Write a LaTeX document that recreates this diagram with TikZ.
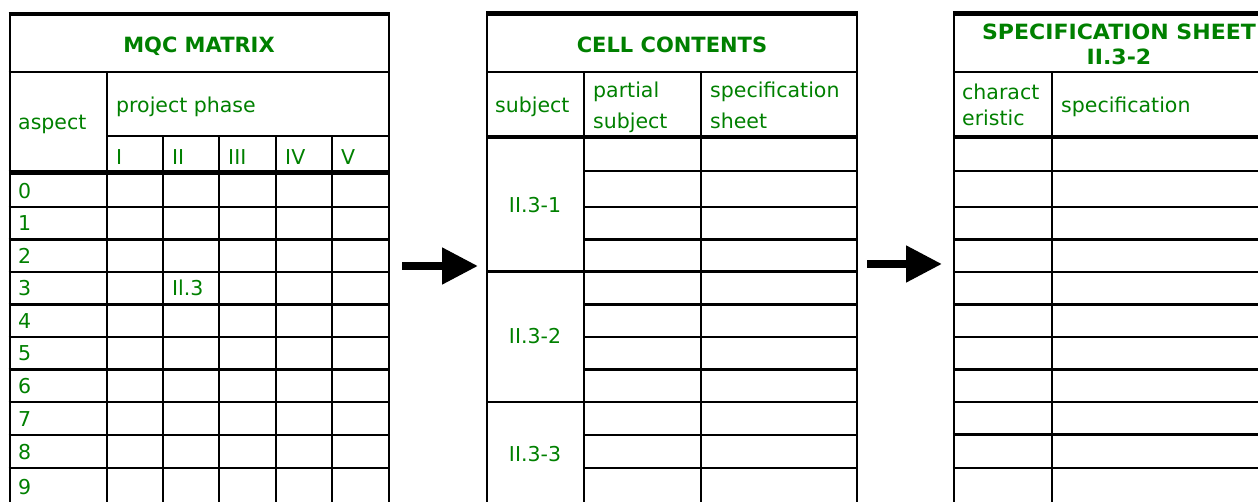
\documentclass[tikz,border=0pt]{standalone}
\usepackage{fontspec}
\setmainfont{DejaVu Sans}
\usetikzlibrary{arrows.meta}
\definecolor{txtgreen}{RGB}{0,128,0}
\tikzset{
  gridline/.style={draw=black, line width=2.2pt},
  heavyline/.style={draw=black, line width=4.2pt},
  lbl/.style={inner sep=0pt, anchor=base west, text=txtgreen, font=\fontsize{20.5}{24}\selectfont},
  ctr/.style={lbl, anchor=base},
  ttl/.style={inner sep=0pt, anchor=base, text=txtgreen, font=\fontsize{21}{25}\selectfont\bfseries},
  bigarrow/.style={draw=black, line width=8pt, -{Triangle[length=36pt,width=35pt]}}
}
\begin{document}
\begin{tikzpicture}[x=1pt,y=-1pt]
\useasboundingbox (0,0) rectangle (1258,502);
\begin{scope}
\clip (0,0) rectangle (1258,502);
% ---------------- Table 1: MQC MATRIX ----------------
\draw[gridline] (9.7,13.7) -- (9.7,515);
\draw[gridline] (389,13.7) -- (389,515);
\draw[gridline] (107.2,71.7) -- (107.2,515);
\foreach \x in {163.3,219,276,332.3} \draw[gridline] (\x,136) -- (\x,515);
\draw[gridline] (8.6,71.7) -- (390.1,71.7);
\draw[gridline] (106.1,136) -- (390.1,136);
\foreach \y in {207,239.5,272,304.5,337,369.5,402,435,468} \draw[gridline] (8.6,\y) -- (390.1,\y);
\draw[heavyline] (8.6,172.5) -- (390.1,172.5);
\draw[heavyline] (8.6,13.7) -- (390.1,13.7);
% ---------------- Table 2: CELL CONTENTS ----------------
\draw[gridline] (487.2,13.5) -- (487.2,515);
\draw[gridline] (856.7,13.5) -- (856.7,515);
\draw[gridline] (583.7,71.7) -- (583.7,515);
\draw[gridline] (700.7,71.7) -- (700.7,515);
\draw[gridline] (486.1,71.7) -- (857.8,71.7);
\foreach \y in {271.5,402} \draw[gridline] (486.1,\y) -- (857.8,\y);
\foreach \y in {171,207,239.5,304.5,337,369.5,435,468} \draw[gridline] (583.7,\y) -- (857.8,\y);
\draw[heavyline] (486.1,136.7) -- (857.8,136.7);
\draw[heavyline] (486.1,13.5) -- (857.8,13.5);
% ---------------- Table 3: SPECIFICATION SHEET ----------------
\draw[gridline] (954,13.5) -- (954,515);
\draw[gridline] (1051.7,71.7) -- (1051.7,515);
\draw[gridline] (952.9,71.7) -- (1270,71.7);
\foreach \y in {171,207,239.5,272,304.5,337,369.5,402,434.5,468} \draw[gridline] (952.9,\y) -- (1270,\y);
\draw[heavyline] (952.9,136.7) -- (1270,136.7);
\draw[heavyline] (952.9,13.5) -- (1270,13.5);
% ---------------- Texts, table 1 ----------------
\node[ttl] (t1title) at (199,52.3) {MQC MATRIX};
\node[lbl] (t1aspect) at (18,130) {aspect};
\node[lbl] (t1phase) at (116,112.7) {project phase};
\node[lbl] (ph1) at (116,164.3) {I};
\node[lbl] (ph2) at (172,164.3) {II};
\node[lbl] (ph3) at (228,164.3) {III};
\node[lbl] (ph4) at (285,164.3) {IV};
\node[lbl] (ph5) at (341,164.3) {V};
\node[lbl] (d0) at (18,198.3) {0};
\node[lbl] (d1) at (18,230.7) {1};
\node[lbl] (d2) at (18,263.3) {2};
\node[lbl] (d3) at (18,296) {3};
\node[lbl] (d4) at (18,328.4) {4};
\node[lbl] (d5) at (18,360.8) {5};
\node[lbl] (d6) at (18,393.3) {6};
\node[lbl] (d7) at (18,426) {7};
\node[lbl] (d8) at (18,459.5) {8};
\node[lbl] (d9) at (18,494.5) {9};
\node[lbl] (cell23) at (172,296) {Il.3};
% ---------------- Texts, table 2 ----------------
\node[ttl] (t2title) at (672,52.3) {CELL CONTENTS};
\node[lbl] (t2subj) at (495,112.7) {subject};
\node[lbl] (t2parta) at (593,97.3) {partial};
\node[lbl] (t2partb) at (593,128.3) {subject};
\node[lbl] (t2speca) at (710,97.3) {specification};
\node[lbl] (t2specb) at (710,128.3) {sheet};
\node[ctr] (t2g1) at (535,212.3) {II.3-1};
\node[ctr] (t2g2) at (535,344) {II.3-2};
\node[ctr] (t2g3) at (535,461) {II.3-3};
% ---------------- Texts, table 3 ----------------
\node[ttl] (t3titlea) at (1119,39.3) {\scalebox{1.05}[1]{SPECIFICATION SHEET}};
\node[ttl] (t3titleb) at (1119,64.3) {\scalebox{1.05}[1]{II.3-2}};
\node[lbl] (t3chara) at (962,100) {charact};
\node[lbl] (t3charb) at (962,126) {eristic};
\node[lbl] (t3spec) at (1061,112.7) {specification};
% ---------------- Arrows ----------------
\coordinate (a1s) at (402,266);
\coordinate (a1e) at (478,266);
\coordinate (a2s) at (867,264);
\coordinate (a2e) at (942,264);
\draw[bigarrow] (a1s) -- (a1e);
\draw[bigarrow] (a2s) -- (a2e);
\end{scope}
\end{tikzpicture}
\end{document}
